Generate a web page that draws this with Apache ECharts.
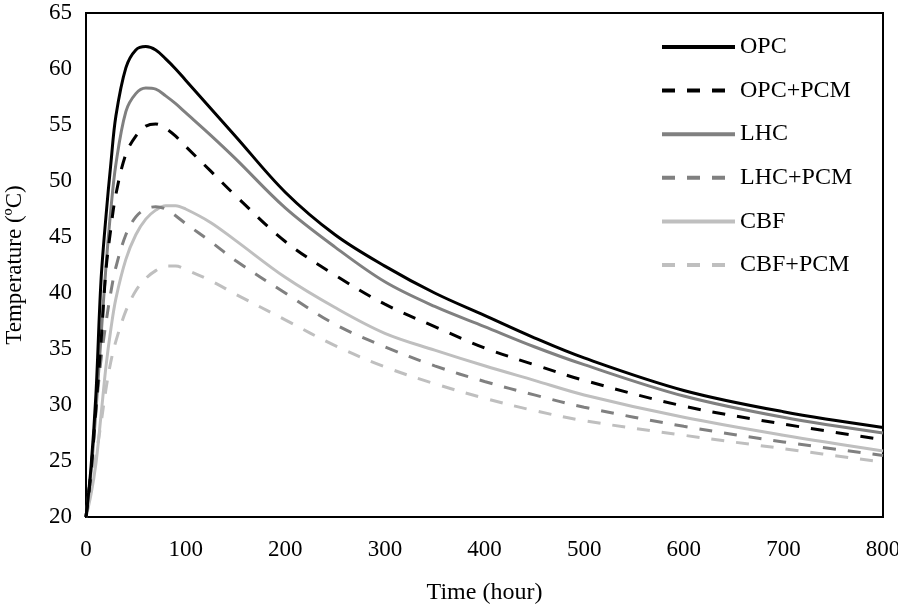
<!DOCTYPE html>
<html>
<head>
<meta charset="utf-8">
<script src="https://cdn.jsdelivr.net/npm/echarts@6/dist/echarts.min.js"></script>
<style>
html,body{margin:0;padding:0;background:#fff;}
#chart{width:898px;height:607px;}
</style>
</head>
<body>
<div id="chart"></div>
<script>
const times   = [0,5,10,15,20,25,30,40,50,60,70,80,90,100,125,150,200,250,300,350,400,450,500,600,700,800];
const opc     = [20,24.4,31.0,41.0,46.8,51.6,55.8,60.1,61.7,62.0,61.7,60.9,60.0,59.0,56.5,54.0,49.0,45.2,42.4,40.0,38.0,36.0,34.2,31.3,29.4,28.0];
const opcPcm  = [20,24.0,29.8,35.5,42.0,45.8,48.8,52.4,54.0,54.9,55.1,54.7,54.0,53.1,50.9,48.7,44.6,41.6,39.0,37.0,35.1,33.6,32.2,29.9,28.3,26.9];
const lhc     = [20,24.0,29.5,36.0,42.3,47.5,51.5,56.2,57.8,58.3,58.2,57.6,56.9,56.1,54.1,52.0,47.6,44.1,41.0,38.8,37.0,35.2,33.6,30.8,28.9,27.5];
const lhcPcm  = [20,24.0,29.5,34.0,37.3,40.1,42.3,45.2,46.8,47.5,47.7,47.5,46.9,46.2,44.6,42.9,40.0,37.2,35.2,33.5,32.1,30.9,29.8,28.1,26.7,25.5];
const cbf     = [20,22.0,24.8,29.0,33.4,36.8,39.5,43.0,45.2,46.6,47.4,47.8,47.8,47.5,46.3,44.7,41.4,38.7,36.4,34.9,33.5,32.2,30.9,28.9,27.3,25.9];
const cbfPcm  = [20,22.3,25.5,28.3,31.4,33.9,35.7,38.4,40.2,41.3,42.0,42.4,42.4,42.1,41.1,39.9,37.6,35.3,33.4,31.9,30.6,29.5,28.6,27.3,26.1,24.9];
const seriesNames = ['OPC','OPC+PCM','LHC','LHC+PCM','CBF','CBF+PCM'];
const seriesData  = [opc, opcPcm, lhc, lhcPcm, cbf, cbfPcm];
const seriesColors = ['#000000','#000000','#808080','#808080','#bfbfbf','#bfbfbf'];
const seriesDashed = [false,true,false,true,false,true];
const xTicks = [0,100,200,300,400,500,600,700,800];
const yTicks = [20,25,30,35,40,45,50,55,60,65];

const FONT = '"Liberation Serif","Times New Roman",serif';
const FS = 23;
const chart = echarts.init(document.getElementById('chart'), null, {renderer:'canvas'});

const series = seriesNames.map((name, i) => ({
  name: name,
  type: 'line',
  data: times.map((t, k) => [t, seriesData[i][k]]),
  smooth: 0.35,
  symbol: 'none',
  z: 10 - i,
  lineStyle: {
    color: seriesColors[i],
    width: 3,
    type: seriesDashed[i] ? [13, 12] : 'solid',
    cap: 'butt'
  },
  itemStyle: { color: seriesColors[i] }
}));

chart.setOption({
  animation: false,
  backgroundColor: '#fff',
  grid: {
    left: 86, right: 15, top: 13, bottom: 90,
    outerBoundsMode: 'none',
    containLabel: false,
    show: true, borderColor: '#000', borderWidth: 2, backgroundColor: 'transparent'
  },
  legend: {
    orient: 'vertical',
    left: 655,
    top: 30,
    itemWidth: 73,
    itemHeight: 14,
    itemGap: 19.6,
    selectedMode: false,
    itemStyle: { opacity: 0 },
    lineStyle: { width: 4 },
    textStyle: { fontFamily: FONT, fontSize: 24, lineHeight: 23, color: '#000' },
    data: seriesNames
  },
  xAxis: {
    type: 'value',
    min: xTicks[0], max: xTicks[xTicks.length-1], interval: 100,
    name: 'Time (hour)',
    nameLocation: 'middle',
    nameGap: 64,
    nameTextStyle: { fontFamily: FONT, fontSize: FS + 1, color: '#000' },
    axisLine: { show: true, lineStyle: { color: '#000', width: 2 } },
    axisTick: { show: false },
    splitLine: { show: false },
    axisLabel: { fontFamily: FONT, fontSize: FS, color: '#000', margin: 21 }
  },
  yAxis: {
    type: 'value',
    min: yTicks[0], max: yTicks[yTicks.length-1], interval: 5,
    name: 'Temperature (ºC)',
    nameLocation: 'middle',
    nameGap: 60,
    nameRotate: 90,
    nameTextStyle: { fontFamily: FONT, fontSize: FS, color: '#000' },
    axisLine: { show: true, lineStyle: { color: '#000', width: 2 } },
    axisTick: { show: false },
    splitLine: { show: false },
    axisLabel: { fontFamily: FONT, fontSize: FS, color: '#000', margin: 14 }
  },
  series: series
});
</script>
</body>
</html>
